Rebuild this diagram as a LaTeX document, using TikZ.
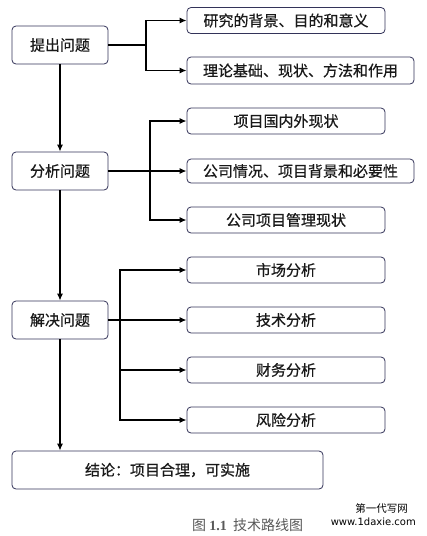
\documentclass[tikz,border=0pt]{standalone}
\usepackage{fontspec}
\setmainfont{Liberation Serif}
\newfontfamily\cjk{Noto Sans CJK SC}
\newfontfamily\cjkb[FakeBold=0.6]{Noto Sans CJK SC}
\newfontfamily\wmfont{DejaVu Sans}
\usetikzlibrary{arrows.meta}
\begin{document}
\begin{tikzpicture}[x=1pt,y=-1pt,
  box/.style={draw=black!75!blue!60!gray, line width=0.8pt, rounded corners=4pt,
    font=\cjkb\fontsize{15}{18}\selectfont, text=black!90, inner sep=0pt, anchor=center},
  mainbox/.style={box, minimum width=96pt, minimum height=38pt},
  subbox/.style={box, minimum width=198pt, minimum height=26pt},
  widebox/.style={box, minimum width=227pt, minimum height=26pt},
  arr/.style={line width=1.3pt, -{Latex[length=7pt,width=6pt]}},
  ln/.style={line width=1.3pt}]
\useasboundingbox (0,0) rectangle (427,536);
\fill[white] (0,0) rectangle (427,536);

% main column
\node[mainbox] (p1) at (60,45) {提出问题};
\node[mainbox] (p2) at (60,171) {分析问题};
\node[mainbox] (p3) at (60,320) {解决问题};
\node[box, minimum width=311pt, minimum height=38pt] (p4) at (167.5,470) {结论：项目合理，可实施};

% group 1
\node[subbox] (a1) at (286,20.5) {研究的背景、目的和意义};
\node[widebox, minimum height=27pt] (a2) at (300.5,70.5) {理论基础、现状、方法和作用};

% group 2
\node[subbox] (b1) at (286,121) {项目国内外现状};
\node[widebox, minimum height=24pt] (b2) at (300.5,171) {公司情况、项目背景和必要性};
\node[subbox] (b3) at (286,220) {公司项目管理现状};

% group 3
\node[subbox] (c1) at (286,270) {市场分析};
\node[subbox] (c2) at (286,320) {技术分析};
\node[subbox] (c3) at (286,370) {财务分析};
\node[subbox] (c4) at (286,420) {风险分析};

% junctions
\coordinate (j1) at (146,45);
\coordinate (j2) at (150,171);
\coordinate (j3) at (120,320);

% main arrows
\draw[arr] (p1.south) -- (p2.north);
\draw[arr] (p2.south) -- (p3.north);
\draw[arr] (p3.south) -- (p3.south |- p4.north);

% branches
\draw[ln] (p1.east) -- (j1);
\draw[arr] (j1) |- (a1.west);
\draw[arr] (j1) |- (a2.west);

\draw[arr] (p2.east) -- (b2.west);
\draw[arr] (j2) |- (b1.west);
\draw[arr] (j2) |- (b3.west);

\draw[arr] (p3.east) -- (c2.west);
\draw[arr] (j3) |- (c1.west);
\draw[arr] (j3) |- (c3.west);
\draw[arr] (j3) |- (c4.west);

% caption and watermark
\node[font=\cjk\fontsize{14}{16}\selectfont, text=black!65, anchor=west, inner sep=0pt] (cap) at (192,525) {图\ \textbf{\rmfamily 1.1}\ \ 技术路线图};
\node[font=\cjk\fontsize{10.5}{12}\selectfont, text=black, anchor=east, inner sep=0pt] (wm1) at (408,508) {第一代写网};
\node[font=\wmfont\fontsize{10}{12}\selectfont, text=black, anchor=east, inner sep=0pt] (wm2) at (416,522) {www.1daxie.com};
\end{tikzpicture}
\end{document}
